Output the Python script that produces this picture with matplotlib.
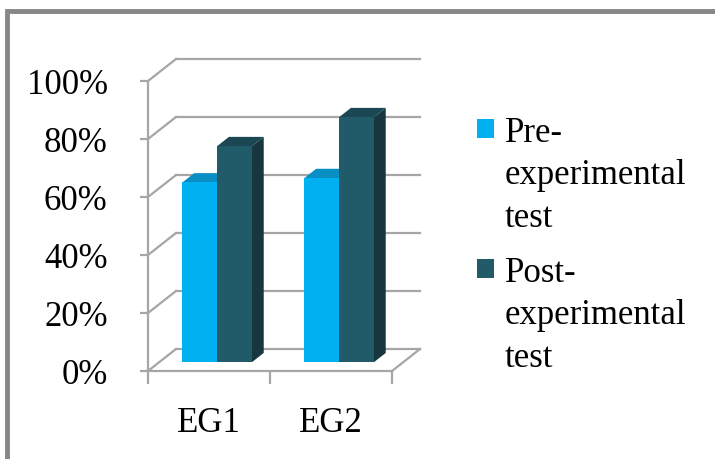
import matplotlib.pyplot as plt
from matplotlib.patches import Rectangle
import numpy as np

plt.rcParams['font.family'] = ['Liberation Serif', 'DejaVu Serif']

# data
groups = ['EG1', 'EG2']
series = ['Pre-\nexperimental\ntest', 'Post-\nexperimental\ntest']
pre_test = [0.62, 0.635]
post_test = [0.745, 0.845]
y_ticks = [0, 0.2, 0.4, 0.6, 0.8, 1.0]

# face colours: front, side, top
front_cols = ['#00b0f0', '#215b69']
side_cols = ['#0088bb', '#17363f']
top_cols = ['#0a8fc4', '#1b4653']
grid_col = '#a6a6a6'

# oblique depth offset (in data units for a full unit of depth)
DX, DY = 0.23, 0.076
bar_d0, bar_d1 = 0.40, 0.82
bar_w = 0.285
bar_start = 0.19
fs = 25

W, H = 715, 460
fig = plt.figure(figsize=(W / 100, H / 100), dpi=100)
ax = fig.add_axes([148 / W, 88 / H, 244 / W, 290 / H])
ax.set_xlim(0, len(groups))
ax.set_ylim(0, 1)


def proj(c, v, d):
    return c + d * DX, v + d * DY


def face(pts, color, z):
    xs, ys = zip(*[proj(*p) for p in pts])
    ax.fill(xs, ys, color=color, lw=0, clip_on=False, zorder=z)


# back wall gridlines and left wall diagonals
n = len(groups)
for t in y_ticks:
    x0, y0 = proj(0, t, 1)
    x1, y1 = proj(n, t, 1)
    ax.plot([x0, x1], [y0, y1], color=grid_col, lw=1.6, clip_on=False, zorder=1)
    xa, ya = proj(0, t, 0)
    ax.plot([xa, x0], [ya, y0], color=grid_col, lw=1.6, clip_on=False, zorder=1)

# floor right edge
xr0, yr0 = proj(n, 0, 0)
xr1, yr1 = proj(n, 0, 1)
ax.plot([xr0, xr1], [yr0, yr1], color=grid_col, lw=1.6, clip_on=False, zorder=1)

# bars
for i in range(n):
    for s, vals in enumerate([pre_test, post_test]):
        v = vals[i]
        x0 = i + bar_start + s * bar_w
        x1 = x0 + bar_w
        z = 3 + s
        face([(x1, 0, bar_d0), (x1, 0, bar_d1), (x1, v, bar_d1), (x1, v, bar_d0)], side_cols[s], z)
        face([(x0, v, bar_d0), (x1, v, bar_d0), (x1, v, bar_d1), (x0, v, bar_d1)], top_cols[s], z)
        face([(x0, 0, bar_d0), (x1, 0, bar_d0), (x1, v, bar_d0), (x0, v, bar_d0)], front_cols[s], z)

# axes styling
for side in ['top', 'right']:
    ax.spines[side].set_visible(False)
for side in ['left', 'bottom']:
    ax.spines[side].set_color(grid_col)
    ax.spines[side].set_linewidth(1.6)
ax.set_facecolor('none')
ax.set_yticks(y_ticks)
ax.set_yticklabels([f'{int(round(t * 100))}%' for t in y_ticks], fontsize=fs)
ax.tick_params(axis='y', length=6, width=1.6, color=grid_col, pad=23)
ax.set_xticks(np.arange(n + 1))
ax.set_xticklabels([])
ax.tick_params(axis='x', which='major', length=9, width=1.6, color=grid_col)
ax.set_xticks(np.arange(n) + 0.5, minor=True)
ax.set_xticklabels(groups, minor=True, fontsize=fs)
ax.tick_params(axis='x', which='minor', length=0, pad=25)

# legend
for s, lab in enumerate(series):
    base = 142 + s * 140
    fig.patches.append(Rectangle((477 / W, 1 - (base - 3) / H), 17 / W, 19 / H,
                                 transform=fig.transFigure, color=front_cols[s], lw=0))
    for k, line in enumerate(lab.split('\n')):
        fig.text(505 / W, 1 - (base + k * 42.5) / H, line, fontsize=fs,
                 va='baseline', ha='left')

# outer chart border
fig.patches.append(Rectangle((7 / W, -0.1), 1.2, 1 - 12 / H + 0.1,
                             transform=fig.transFigure, fill=False,
                             edgecolor='#878787', lw=3.5))

fig.savefig('out.png', dpi=100)
